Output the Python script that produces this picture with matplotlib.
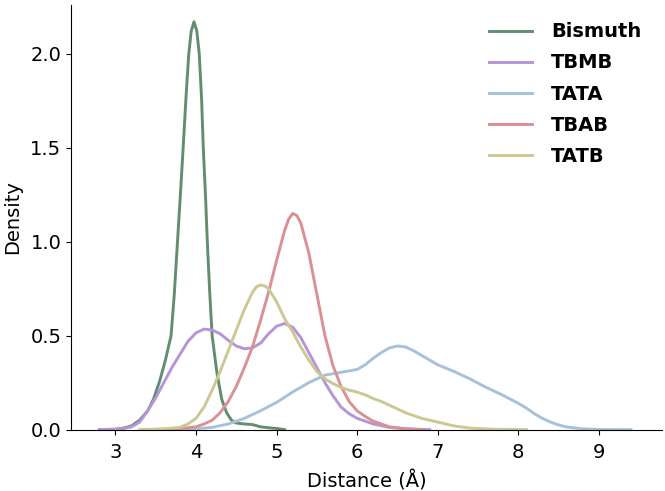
import numpy as np
import matplotlib
matplotlib.use('Agg')
import matplotlib.pyplot as plt

# density curves (x in Angstrom, y density)
bi_x = [2.8, 3.0, 3.1, 3.2, 3.3, 3.4, 3.47, 3.55, 3.62, 3.69, 3.73, 3.77, 3.81, 3.84, 3.88, 3.91,
        3.94, 3.975, 4.01, 4.04, 4.07, 4.09, 4.12, 4.14, 4.17, 4.20, 4.26, 4.32, 4.38, 4.44,
        4.5, 4.6, 4.7, 4.8, 4.9, 5.0, 5.1]
bi_y = [0.0, 0.002, 0.008, 0.02, 0.05, 0.1, 0.16, 0.26, 0.37, 0.5, 0.72, 1.0, 1.28, 1.5, 1.8, 2.0,
        2.12, 2.17, 2.12, 2.0, 1.75, 1.5, 1.22, 1.0, 0.73, 0.5, 0.3, 0.16, 0.09, 0.05,
        0.035, 0.03, 0.027, 0.015, 0.01, 0.006, 0.0]

tbmb_x = [2.8, 3.0, 3.1, 3.2, 3.3, 3.4, 3.5, 3.6, 3.7, 3.8, 3.9, 4.0, 4.1, 4.2, 4.3, 4.4, 4.5,
          4.6, 4.7, 4.8, 4.9, 5.0, 5.1, 5.2, 5.3, 5.4, 5.5, 5.6, 5.7, 5.8, 5.9, 6.0, 6.2, 6.4,
          6.6, 6.9]
tbmb_y = [0.0, 0.002, 0.006, 0.015, 0.04, 0.1, 0.17, 0.25, 0.33, 0.4, 0.47, 0.515, 0.535, 0.53,
          0.51, 0.475, 0.445, 0.43, 0.435, 0.46, 0.51, 0.55, 0.565, 0.545, 0.49, 0.41, 0.33,
          0.25, 0.18, 0.12, 0.085, 0.06, 0.03, 0.012, 0.004, 0.0]

tata_x = [3.7, 4.0, 4.2, 4.4, 4.6, 4.8, 5.0, 5.2, 5.4, 5.6, 5.8, 6.0, 6.1, 6.2, 6.3, 6.4, 6.5,
          6.6, 6.7, 6.8, 6.9, 7.0, 7.2, 7.4, 7.6, 7.8, 8.0, 8.1, 8.2, 8.3, 8.4, 8.5, 8.6, 8.8,
          9.0, 9.4]
tata_y = [0.0, 0.004, 0.012, 0.03, 0.06, 0.1, 0.145, 0.2, 0.25, 0.29, 0.305, 0.32, 0.345, 0.38,
          0.41, 0.435, 0.445, 0.44, 0.42, 0.395, 0.37, 0.345, 0.31, 0.27, 0.225, 0.185, 0.14,
          0.115, 0.085, 0.06, 0.04, 0.025, 0.014, 0.004, 0.001, 0.0]

tbab_x = [3.4, 3.8, 4.0, 4.1, 4.2, 4.3, 4.4, 4.5, 4.6, 4.7, 4.8, 4.9, 5.0, 5.1, 5.15, 5.2, 5.25,
          5.3, 5.4, 5.5, 5.6, 5.7, 5.8, 5.9, 6.0, 6.1, 6.2, 6.4, 6.6, 6.8]
tbab_y = [0.0, 0.005, 0.015, 0.03, 0.05, 0.09, 0.15, 0.23, 0.33, 0.44, 0.58, 0.73, 0.9, 1.06,
          1.12, 1.15, 1.14, 1.1, 0.94, 0.72, 0.5, 0.34, 0.23, 0.15, 0.1, 0.07, 0.045, 0.015,
          0.005, 0.0]

tatb_x = [3.3, 3.6, 3.8, 3.9, 4.0, 4.1, 4.2, 4.3, 4.4, 4.5, 4.6, 4.7, 4.75, 4.8, 4.85, 4.9, 5.0,
          5.1, 5.2, 5.3, 5.4, 5.5, 5.6, 5.7, 5.8, 5.9, 6.0, 6.1, 6.2, 6.3, 6.4, 6.5, 6.6, 6.7,
          6.8, 6.9, 7.0, 7.2, 7.4, 7.7, 8.1]
tatb_y = [0.0, 0.004, 0.012, 0.03, 0.06, 0.12, 0.21, 0.31, 0.42, 0.53, 0.64, 0.73, 0.76, 0.77,
          0.765, 0.75, 0.68, 0.59, 0.52, 0.44, 0.37, 0.31, 0.27, 0.245, 0.225, 0.21, 0.2, 0.185,
          0.165, 0.15, 0.13, 0.11, 0.09, 0.075, 0.06, 0.05, 0.04, 0.02, 0.008, 0.002, 0.0]

series = [
    ('Bismuth', bi_x, bi_y, '#638d70'),
    ('TBMB', tbmb_x, tbmb_y, '#b694d8'),
    ('TATA', tata_x, tata_y, '#a8c1d8'),
    ('TBAB', tbab_x, tbab_y, '#d99193'),
    ('TATB', tatb_x, tatb_y, '#ccc892'),
]

plt.rcParams['font.family'] = 'DejaVu Sans'
fig, ax = plt.subplots(figsize=(6.65, 4.91), dpi=100)
fig.subplots_adjust(left=0.107, right=0.995, bottom=0.125, top=0.99)

for name, xs, ys, col in series:
    ax.plot(xs, ys, color=col, lw=2.1, label=name)

ax.set_xlim(2.45, 9.78)
ax.set_ylim(0, 2.26)
ax.set_xticks([3, 4, 5, 6, 7, 8, 9])
ax.set_yticks([0.0, 0.5, 1.0, 1.5, 2.0])
ax.tick_params(labelsize=14)
ax.tick_params(axis='x', pad=6)
ax.set_xlabel('Distance (Å)', fontsize=14, labelpad=6)
ax.set_ylabel('Density', fontsize=14, labelpad=6)
ax.spines['top'].set_visible(False)
ax.spines['right'].set_visible(False)

ax.legend(loc='upper right', bbox_to_anchor=(0.995, 1.0), frameon=False,
          prop={'weight': 'bold', 'size': 14},
          handlelength=2.2, handletextpad=1.0, labelspacing=0.62)

plt.savefig('out.png', dpi=100)
